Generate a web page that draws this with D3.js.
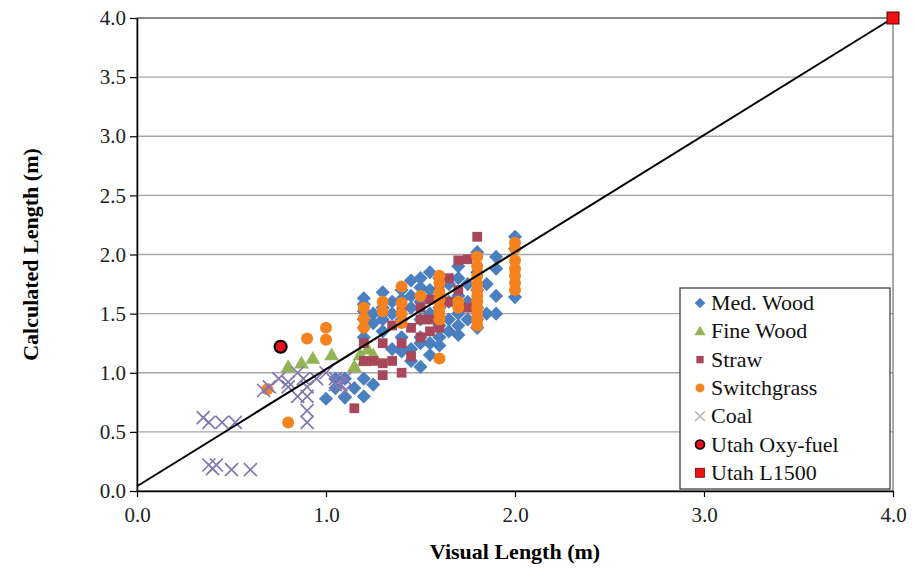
<!DOCTYPE html>
<html>
<head>
<meta charset="utf-8">
<script src="https://cdn.jsdelivr.net/npm/d3@7"></script>
<style>
  body { margin: 0; background: #fff; }
</style>
</head>
<body>
<div id="vis"></div>
<script>
// values, [visual, calculated] in metres
const medWood = [
  [1.0,0.78],[1.05,0.87],[1.1,0.79],[1.1,0.95],[1.15,0.87],[1.2,0.8],[1.2,0.95],[1.25,0.9],[1.05,0.95],
  [1.2,1.63],[1.2,1.58],[1.2,1.52],[1.2,1.45],[1.2,1.38],[1.2,1.3],
  [1.25,1.5],[1.25,1.42],
  [1.3,1.68],[1.3,1.55],[1.3,1.5],[1.3,1.45],[1.3,1.35],
  [1.35,1.6],[1.35,1.5],[1.35,1.2],
  [1.4,1.7],[1.4,1.62],[1.4,1.45],[1.4,1.3],[1.4,1.18],
  [1.45,1.78],[1.45,1.65],[1.45,1.55],[1.45,1.2],[1.45,1.1],
  [1.5,1.8],[1.5,1.72],[1.5,1.6],[1.5,1.45],[1.5,1.3],[1.5,1.05],[1.5,1.25],
  [1.55,1.85],[1.55,1.7],[1.55,1.5],[1.55,1.25],[1.55,1.15],
  [1.6,1.8],[1.6,1.65],[1.6,1.55],[1.6,1.4],[1.6,1.3],[1.6,1.23],
  [1.65,1.75],[1.65,1.6],[1.65,1.45],[1.65,1.35],
  [1.7,1.9],[1.7,1.8],[1.7,1.65],[1.7,1.5],[1.7,1.4],[1.7,1.32],
  [1.75,1.75],[1.75,1.6],[1.75,1.45],
  [1.8,2.02],[1.8,1.85],[1.8,1.7],[1.8,1.55],[1.8,1.45],[1.8,1.38],
  [1.85,1.75],[1.85,1.5],
  [1.9,1.98],[1.9,1.88],[1.9,1.65],[1.9,1.5],
  [2.0,2.15],[2.0,2.05],[2.0,1.64]
]
const fineWood = [[0.8,1.05],[0.87,1.08],[0.93,1.12],[1.03,1.15],[1.15,1.05],[1.18,1.15],[1.22,1.2],[1.25,1.15],[1.2,1.1]]
const straw = [
  [1.15,0.7],[1.2,1.1],[1.2,1.25],[1.25,1.1],[1.3,0.98],[1.3,1.08],[1.3,1.25],[1.35,1.1],[1.35,1.4],
  [1.4,1.0],[1.4,1.25],[1.45,1.14],[1.45,1.38],[1.5,1.3],[1.5,1.55],[1.55,1.45],[1.55,1.62],[1.6,1.7],
  [1.6,1.5],[1.65,1.6],[1.65,1.8],[1.7,1.95],[1.75,1.96],[1.75,1.55],[1.8,2.15],[1.7,1.7],[1.6,1.38],
  [1.5,1.45],[1.4,1.55],[1.55,1.35]
]
const switchgrass = [
  [0.69,0.86],[0.8,0.58],[0.9,1.29],[1.0,1.38],[1.0,1.28],[1.2,1.55],[1.2,1.46],[1.2,1.38],[1.3,1.6],[1.3,1.52],
  [1.4,1.73],[1.4,1.59],[1.4,1.5],[1.4,1.42],[1.6,1.12],[1.6,1.45],[1.6,1.5],[1.6,1.55],[1.6,1.62],[1.6,1.68],
  [1.6,1.76],[1.6,1.82],[1.8,1.4],[1.8,1.45],[1.8,1.5],[1.8,1.55],[1.8,1.6],[1.8,1.65],[1.8,1.7],[1.8,1.75],
  [1.8,1.82],[1.8,1.9],[1.8,1.98],[2.0,1.7],[2.0,1.76],[2.0,1.82],[2.0,1.88],[2.0,1.95],[2.0,2.05],[2.0,2.1],
  [1.7,1.55],[1.7,1.6],[1.5,1.65]
]
const coal = [
  [0.35,0.62],[0.38,0.58],[0.45,0.58],[0.52,0.58],
  [0.38,0.22],[0.4,0.19],[0.42,0.22],[0.5,0.18],[0.6,0.18],
  [0.67,0.85],[0.7,0.88],[0.75,0.95],[0.8,0.92],[0.85,1.0],[0.88,0.95],[0.9,0.88],[0.9,0.8],[0.9,0.68],
  [0.9,0.58],[0.95,0.95],[1.0,1.0],[1.05,0.95],[1.05,0.9],[1.08,0.9],[1.1,0.95],[1.1,0.85],[0.8,0.88],[0.85,0.8]
]
const utahOxy = [[0.76,1.22]]
const utahL1500 = [[4.0,4.0]]
const fitLine = [[0, 0.04], [4, 4]]

const xTicks = [0, 1, 2, 3, 4]
const yTicks = [0, 0.5, 1, 1.5, 2, 2.5, 3, 3.5, 4]

const seriesNames = ['Med. Wood', 'Fine Wood', 'Straw', 'Switchgrass', 'Coal', 'Utah Oxy-fuel', 'Utah L1500']

const FONT = 'Liberation Serif'

const margin = {left: 137, top: 18, right: 21, bottom: 82}
const width = 914 - margin.left - margin.right
const height = 573 - margin.top - margin.bottom

let xScale, yScale

function createScales(){
    xScale = d3.scaleLinear([0, 4], [margin.left, margin.left + width])
    yScale = d3.scaleLinear([0, 4], [margin.top + height, margin.top])
}

// marker drawers, each takes a selection of <g> already moved into place
const markers = {
    'Med. Wood': g => g.append('path').attr('d', d3.symbol(d3.symbolSquare, 100)()).attr('transform', 'rotate(45)')
        .attr('fill', '#4a7fc0'),
    'Fine Wood': g => g.append('path').attr('d', d3.symbol(d3.symbolTriangle, 95)()).attr('transform', 'translate(0,1)')
        .attr('fill', '#93b556'),
    'Straw': g => g.append('path').attr('d', d3.symbol(d3.symbolSquare, 95)())
        .attr('fill', '#a8465a'),
    'Switchgrass': g => g.append('circle').attr('r', 6)
        .attr('fill', '#f5821f'),
    'Coal': g => g.append('path').attr('d', 'M-6.5,-6.5L6.5,6.5M-6.5,6.5L6.5,-6.5')
        .attr('fill', 'none').attr('stroke', '#8478b2').attr('stroke-width', 1.7),
    'Utah Oxy-fuel': g => g.append('circle').attr('r', 6)
        .attr('fill', '#e8101a').attr('stroke', '#000').attr('stroke-width', 2.2),
    'Utah L1500': g => g.append('rect').attr('x', -6).attr('y', -6).attr('width', 12).attr('height', 12)
        .attr('fill', '#ee1111').attr('stroke', '#5a0000').attr('stroke-width', 1)
}

function drawChart(){
    let svg = d3.select('#vis').append('svg')
        .attr('width', 914)
        .attr('height', 573)

    // horizontal gridlines
    svg.append('g')
        .selectAll('line')
        .data(yTicks)
        .enter()
        .append('line')
            .attr('x1', margin.left)
            .attr('x2', margin.left + width)
            .attr('y1', d => yScale(d))
            .attr('y2', d => yScale(d))
            .attr('stroke', '#a6a6a6')
            .attr('stroke-width', 1.3)

    // plot area outline
    svg.append('rect')
        .attr('x', margin.left)
        .attr('y', margin.top)
        .attr('width', width)
        .attr('height', height)
        .attr('fill', 'none')
        .attr('stroke', '#555')
        .attr('stroke-width', 1)

    let xAxis = d3.axisBottom(xScale).tickValues(xTicks).tickFormat(d3.format('.1f')).tickSize(6).tickSizeOuter(0)
    let yAxis = d3.axisLeft(yScale).tickValues(yTicks).tickFormat(d3.format('.1f')).tickSize(7).tickSizeOuter(0)

    svg.append('g')
        .attr('transform', `translate(0, ${margin.top + height})`)
        .call(xAxis)
        .call(g => g.select('.domain').attr('stroke', '#000').attr('stroke-width', 1.5))
        .call(g => g.selectAll('.tick line').attr('stroke', '#000').attr('stroke-width', 1.2))
        .call(g => g.selectAll('.tick text')
            .attr('font-family', FONT).attr('font-size', 21).attr('fill', '#222').attr('dy', '1.05em'))

    svg.append('g')
        .attr('transform', `translate(${margin.left}, 0)`)
        .call(yAxis)
        .call(g => g.select('.domain').attr('stroke', '#000').attr('stroke-width', 1.5))
        .call(g => g.selectAll('.tick line').attr('stroke', '#000').attr('stroke-width', 1.2))
        .call(g => g.selectAll('.tick text')
            .attr('font-family', FONT).attr('font-size', 21).attr('fill', '#222').attr('x', -11))

    // series, in legend order so later ones sit on top
    const seriesData = [medWood, fineWood, straw, switchgrass, coal, utahOxy, utahL1500]
    seriesNames.forEach((name, i) => {
        if (name === 'Utah L1500') return
        let pts = svg.append('g')
            .selectAll('g')
            .data(seriesData[i])
            .enter()
            .append('g')
                .attr('transform', d => `translate(${xScale(d[0])}, ${yScale(d[1])})`)
        markers[name](pts)
    })

    // 1:1 style line
    svg.append('path')
        .datum(fitLine)
        .attr('d', d3.line().x(d => xScale(d[0])).y(d => yScale(d[1])))
        .attr('stroke', '#000')
        .attr('stroke-width', 2)
        .attr('fill', 'none')

    let l1500 = svg.append('g')
        .selectAll('g')
        .data(utahL1500)
        .enter()
        .append('g')
            .attr('transform', d => `translate(${xScale(d[0])}, ${yScale(d[1])})`)
    markers['Utah L1500'](l1500)

    // axis titles
    svg.append('text')
        .text('Visual Length (m)')
        .attr('x', margin.left + width / 2)
        .attr('y', 559)
        .attr('text-anchor', 'middle')
        .attr('font-family', FONT)
        .attr('font-size', 22)
        .attr('font-weight', 'bold')

    svg.append('text')
        .text('Calculated Length (m)')
        .attr('transform', `translate(38, ${margin.top + height / 2}) rotate(-90)`)
        .attr('text-anchor', 'middle')
        .attr('font-family', FONT)
        .attr('font-size', 22)
        .attr('font-weight', 'bold')

    // legend
    let legend = svg.append('g').attr('transform', 'translate(680, 288)')
    legend.append('rect')
        .attr('width', 210)
        .attr('height', 201)
        .attr('fill', '#fff')
        .attr('stroke', '#333')
        .attr('stroke-width', 1.2)

    let items = legend.selectAll('.item')
        .data(seriesNames)
        .enter()
        .append('g')
            .attr('class', 'item')
            .attr('transform', (d, i) => `translate(0, ${15 + i * 28.3})`)

    items.each(function(d){
        let m = d3.select(this).append('g').attr('transform', 'translate(20, 0) scale(0.75)')
        markers[d](m)
        if (d === 'Coal') m.select('path').attr('stroke', '#b0b0b0')
    })

    items.append('text')
        .text(d => d)
        .attr('x', 31)
        .attr('y', 7)
        .attr('font-family', FONT)
        .attr('font-size', 22)
        .attr('fill', '#111')
}

createScales()
drawChart()
</script>
</body>
</html>
